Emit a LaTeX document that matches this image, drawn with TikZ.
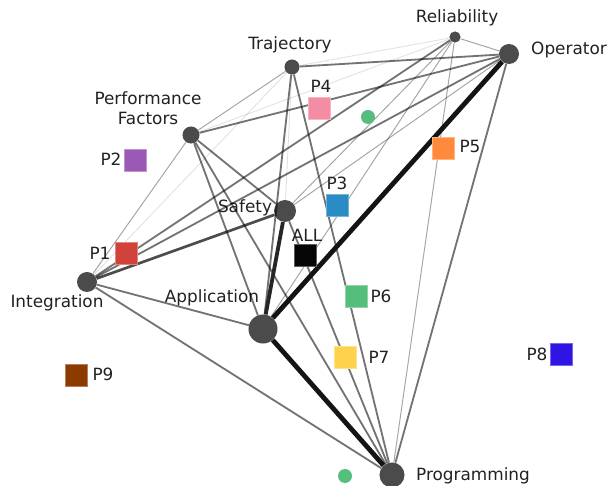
\documentclass[tikz,border=0pt]{standalone}
\usepackage{fontspec}
\setmainfont{DejaVu Sans}
\definecolor{hubgray}{HTML}{4B4B4B}
\definecolor{inkgray}{HTML}{222222}
\definecolor{pone}{HTML}{D1423A}
\definecolor{ptwo}{HTML}{9B59B6}
\definecolor{pthree}{HTML}{2A8CC4}
\definecolor{pfour}{HTML}{F28DA3}
\definecolor{pfive}{HTML}{FF8A3C}
\definecolor{psix}{HTML}{55BE7D}
\definecolor{pseven}{HTML}{FFD24D}
\definecolor{peight}{HTML}{2F14E4}
\definecolor{pnine}{HTML}{8B3A00}
\definecolor{pall}{HTML}{050505}

\begin{document}
\begin{tikzpicture}[x=0.025cm, y=-0.025cm,
  hub/.style={circle, fill=hubgray, inner sep=0pt, minimum size=#1},
  tag/.style={font=\fontsize{12}{14.5}\selectfont, text=inkgray, inner sep=0pt, align=center},
  part/.style={minimum size=0.55cm, inner sep=0pt, line width=0.5pt},
  faintlink/.style={line width=0.6pt, black, draw opacity=0.12},
  lightlink/.style={line width=0.7pt, black, draw opacity=0.35},
  midlink/.style={line width=1.3pt, black, draw opacity=0.55},
  darklink/.style={line width=1.9pt, black, draw opacity=0.7},
  heavylink/.style={line width=3.4pt, black!92}]

% Canvas
\fill[white] (0,0) rectangle (608,486);
\useasboundingbox (0,0) rectangle (608,486);

% ================================================================
% Topic hubs
% ================================================================
\node[hub=0.28cm]  (reliab) at (455,37)  {};
\node[hub=0.5cm]   (operat) at (509,54)  {};
\node[hub=0.375cm] (traj)   at (292,67)  {};
\node[hub=0.425cm] (perf)   at (191,135) {};
\node[hub=0.55cm]  (safety) at (285,211) {};
\node[hub=0.5cm]   (integ)  at (87,282)  {};
\node[hub=0.725cm] (appl)   at (263,329) {};
\node[hub=0.625cm] (progr)  at (392,475) {};

% Hub labels
\node[tag] (reliablbl) at (457,18)  {Reliability};
\node[tag] (operatlbl) at (569,50)  {Operator};
\node[tag] (trajlbl)   at (290,45)  {Trajectory};
\node[tag] (perflbl)   at (148,108) {Performance\\Factors};
\node[tag] (safetylbl) at (245,208) {Safety};
\node[tag] (integlbl)  at (57,303)  {Integration};
\node[tag] (appllbl)   at (212,298) {Application};
\node[tag] (progrlbl)  at (473,476) {Programming};

% ================================================================
% Co-occurrence links (weight by style)
% ================================================================
\foreach \a/\b in {reliab/traj, reliab/perf, traj/safety, traj/integ}
  \draw[faintlink] (\a) -- (\b);
\foreach \a/\b in {reliab/operat, reliab/progr, reliab/appl, reliab/safety,
                   perf/traj, perf/integ, operat/safety}
  \draw[lightlink] (\a) -- (\b);
\foreach \a/\b in {traj/appl, traj/progr, perf/safety, perf/appl, perf/progr,
                   safety/progr, integ/appl, integ/progr, operat/progr,
                   operat/traj, operat/perf, operat/integ, reliab/integ}
  \draw[midlink] (\a) -- (\b);
\draw[darklink] (integ) -- (safety);
\draw[heavylink, line width=2.7pt, black!85] (safety) -- (appl);
\foreach \a/\b in {operat/appl, appl/progr}
  \draw[heavylink] (\a) -- (\b);

% ================================================================
% Papers
% ================================================================
\foreach \nm/\px/\py/\col in {p1/126/253/pone, p2/135/160/ptwo, p3/337/205/pthree,
    p4/319/108/pfour, p5/443/148/pfive, p6/356/296/psix, p7/345/357/pseven,
    p8/561/354/peight, p9/76/375/pnine, pall/305/255/pall}
  \node[part, fill=\col, draw=\col!65!white] (\nm) at (\px,\py) {};

\node[tag] (p1lbl)   at (100,253) {P1};
\node[tag] (p2lbl)   at (111,159) {P2};
\node[tag] (p3lbl)   at (337,183) {P3};
\node[tag] (p4lbl)   at (321,86)  {P4};
\node[tag] (p5lbl)   at (470,146) {P5};
\node[tag] (p6lbl)   at (381,296) {P6};
\node[tag] (p7lbl)   at (379,357) {P7};
\node[tag] (p8lbl)   at (537,354) {P8};
\node[tag] (p9lbl)   at (103,374) {P9};
\node[tag] (palllbl) at (307,235) {ALL};

% Loose markers
\fill[psix] (368,117) circle (0.175cm);
\fill[psix] (345,476) circle (0.175cm);

\end{tikzpicture}
\end{document}
